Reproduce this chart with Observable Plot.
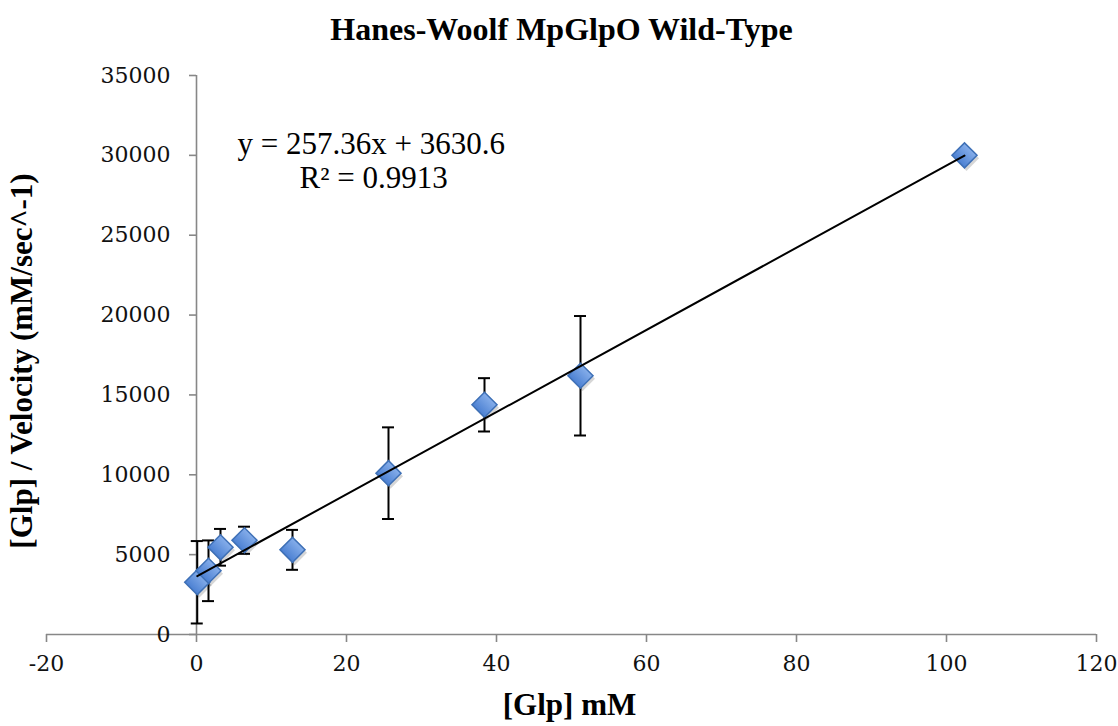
<!DOCTYPE html>
<html>
<head>
<meta charset="utf-8">
<script src="https://cdn.jsdelivr.net/npm/d3@7"></script>
<script src="https://cdn.jsdelivr.net/npm/@observablehq/plot@0.6"></script>
<style>
  html, body { margin: 0; padding: 0; background: #fff; }
  #chart svg { display: block; }
</style>
</head>
<body>
<div id="chart"></div>
<script>
// ---- data ----
const glp = [0.1, 1.6, 3.2, 6.4, 12.8, 25.6, 38.4, 51.2, 102.4];           // [Glp] mM
const ratio = [3270, 3990, 5460, 5900, 5300, 10100, 14380, 16200, 30000];   // [Glp]/Velocity
const err = [2580, 1900, 1150, 850, 1250, 2870, 1670, 3740, 0];             // error
const slope = 257.36;
const intercept = 3630.6;
const rSquared = 0.9913;
const xTicks = [-20, 0, 20, 40, 60, 80, 100, 120];
const yTicks = [0, 5000, 10000, 15000, 20000, 25000, 30000, 35000];
const title = "Hanes-Woolf MpGlpO Wild-Type";
const xLabel = "[Glp] mM";
const yLabel = "[Glp] / Velocity (mM/sec^-1)";

const points = glp.map((x, i) => ({x, y: ratio[i], lo: ratio[i] - err[i], hi: ratio[i] + err[i], e: err[i]}));
const bars = points.filter(d => d.e > 0);
const fitX = [glp[0], glp[glp.length - 1]];
const fit = fitX.map(x => ({x, y: slope * x + intercept}));

const axisColor = "#878787";
const serif = "'Liberation Serif', 'Times New Roman', serif";
const tickFont = "'DejaVu Serif', serif";

const plot = Plot.plot({
  width: 1118,
  height: 726,
  marginLeft: 46,
  marginRight: 22,
  marginTop: 75,
  marginBottom: 92,
  x: {domain: [-20, 120], axis: null},
  y: {domain: [0, 35000], axis: null},
  style: {fontFamily: serif, background: "#fff"},
  marks: [
    // x axis line and ticks
    Plot.ruleY([0], {stroke: axisColor, strokeWidth: 1.6}),
    Plot.ruleX(xTicks, {x: d => d, y1: 0, y2: 0, insetBottom: -8, stroke: axisColor, strokeWidth: 1.6}),
    Plot.text(xTicks, {x: d => d, y: 0, text: d => String(d), dy: 29, fontSize: 22, fill: "#111", fontFamily: tickFont}),
    // y axis at x = 0
    Plot.ruleX([0], {y1: 0, y2: 35000, stroke: axisColor, strokeWidth: 1.6}),
    Plot.ruleY(yTicks, {y: d => d, x1: 0, x2: 0, insetLeft: -7, stroke: axisColor, strokeWidth: 1.6}),
    Plot.text(yTicks, {x: 0, y: d => d, text: d => String(d), textAnchor: "end", dx: -26, fontSize: 22, fill: "#111", fontFamily: tickFont}),
    // error bars
    Plot.link(bars, {x1: "x", x2: "x", y1: "lo", y2: "hi", stroke: "#000", strokeWidth: 2}),
    Plot.ruleY(bars, {y: "hi", x1: "x", x2: "x", insetLeft: -6, insetRight: -6, stroke: "#000", strokeWidth: 2}),
    Plot.ruleY(bars, {y: "lo", x1: "x", x2: "x", insetLeft: -6, insetRight: -6, stroke: "#000", strokeWidth: 2}),
    // diamond shadows and diamonds
    Plot.dot(points, {x: "x", y: "y", symbol: "square", r: 10, rotate: 45, fill: "#000", fillOpacity: 0.16, dx: 2, dy: 3, stroke: "none"}),
    Plot.dot(points, {x: "x", y: "y", symbol: "square", r: 10, rotate: 45, fill: "url(#diamondGrad)", stroke: "#3e70b6", strokeWidth: 1.5}),
    // trend line
    Plot.line(fit, {x: "x", y: "y", stroke: "#000", strokeWidth: 2}),
    // equation
    Plot.text([`y = ${slope}x + ${intercept}`], {frameAnchor: "top-left", dx: 191, dy: 69, lineAnchor: "middle", text: d => d, textAnchor: "start", fontSize: 31, fill: "#000"}),
    Plot.text([`R² = ${rSquared}`], {frameAnchor: "top-left", dx: 253, dy: 103, lineAnchor: "middle", text: d => d, textAnchor: "start", fontSize: 31, fill: "#000"}),
    // titles
    Plot.text([title], {frameAnchor: "top", dy: -46, dx: -10, lineAnchor: "middle", textAnchor: "middle", text: d => d, fontSize: 32, fontWeight: "bold", fill: "#000"}),
    Plot.text([xLabel], {frameAnchor: "bottom", dy: 71, dx: -2, lineAnchor: "middle", textAnchor: "middle", text: d => d, fontSize: 31, fontWeight: "bold", fill: "#000"}),
    Plot.text([yLabel], {frameAnchor: "left", dx: -24, dy: 6, rotate: -90, lineAnchor: "middle", textAnchor: "middle", text: d => d, fontSize: 31, fontWeight: "bold", fill: "#000"})
  ]
});

// gradient for the diamonds
const ns = "http://www.w3.org/2000/svg";
const defs = document.createElementNS(ns, "defs");
defs.innerHTML = `<linearGradient id="diamondGrad" x1="0" y1="0" x2="0" y2="1">
  <stop offset="0%" stop-color="#86aeea"/>
  <stop offset="100%" stop-color="#4b80d2"/>
</linearGradient>`;
plot.insertBefore(defs, plot.firstChild);

document.getElementById("chart").appendChild(plot);
</script>
</body>
</html>
